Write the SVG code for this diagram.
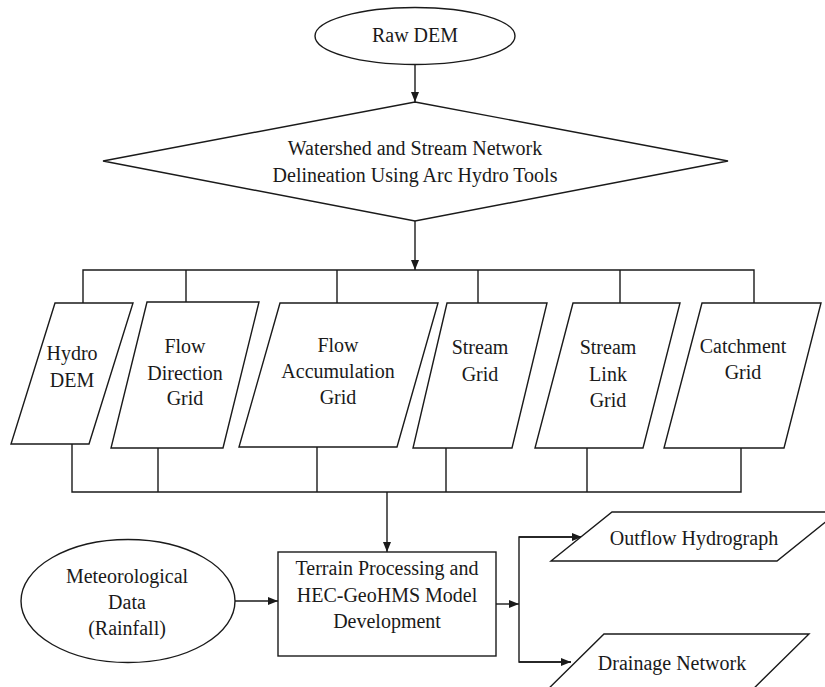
<svg xmlns="http://www.w3.org/2000/svg" width="825" height="687" viewBox="0 0 825 687">
<defs>
<style>
.s{fill:#fff;stroke:#1a1a1a;stroke-width:1.4}
.c{fill:none;stroke:#1a1a1a;stroke-width:1.4}
.t{font-family:"Liberation Serif","Times New Roman",serif;font-size:20px;fill:#1a1a1a;text-anchor:middle}
</style>
<marker id="ah" markerUnits="userSpaceOnUse" markerWidth="11" markerHeight="9" refX="10" refY="4" orient="auto">
<path d="M0,0 L10,4 L0,8 z" fill="#1a1a1a"/>
</marker>
</defs>
<rect width="825" height="687" fill="#fff"/>
<g id="connectors">
<line class="c" x1="415" y1="64" x2="415" y2="102" marker-end="url(#ah)"/>
<line class="c" x1="415" y1="221" x2="415" y2="270" marker-end="url(#ah)"/>
<path class="c" d="M83,303 V270 H754 V303 M186,270 V302 M337,270 V303 M478,270 V303 M620,270 V303"/>
<path class="c" d="M72,444 V492 H741 V448 M158,448 V492 M317,447 V492 M446,448 V492 M587,448 V492"/>
<line class="c" x1="387" y1="492" x2="387" y2="552" marker-end="url(#ah)"/>
<line class="c" x1="235" y1="601" x2="278" y2="601" marker-end="url(#ah)"/>
<line class="c" x1="496" y1="604" x2="519" y2="604" marker-end="url(#ah)"/>
<path class="c" d="M582,537 H519 V662 H571"/>
<line class="c" x1="519" y1="537" x2="582" y2="537" marker-end="url(#ah)"/>
<line class="c" x1="519" y1="662" x2="571" y2="662" marker-end="url(#ah)"/>
</g>
<g id="raw-dem">
<ellipse class="s" cx="415" cy="36" rx="100" ry="28.5"/>
<text class="t" x="415" y="42">Raw DEM</text>
</g>
<g id="delineation">
<polygon class="s" points="415,102 728,161 415,221 103,161"/>
<text class="t" x="415" y="155">Watershed and Stream Network</text>
<text class="t" x="415" y="182">Delineation Using Arc Hydro Tools</text>
</g>
<g id="hydro-dem">
<polygon class="s" points="55,303 133,303 89,444 11,444"/>
<text class="t" x="72" y="360">Hydro</text>
<text class="t" x="72" y="387">DEM</text>
</g>
<g id="flow-direction">
<polygon class="s" points="147,302 259,302 223,448 111,448"/>
<text class="t" x="185" y="353">Flow</text>
<text class="t" x="185" y="380">Direction</text>
<text class="t" x="185" y="405">Grid</text>
</g>
<g id="flow-accumulation">
<polygon class="s" points="280,303 438,303 397,447 239,447"/>
<text class="t" x="338" y="352">Flow</text>
<text class="t" x="338" y="378">Accumulation</text>
<text class="t" x="338" y="404">Grid</text>
</g>
<g id="stream-grid">
<polygon class="s" points="447,303 547,303 512,448 413,448"/>
<text class="t" x="480" y="354">Stream</text>
<text class="t" x="480" y="381">Grid</text>
</g>
<g id="stream-link-grid">
<polygon class="s" points="573,303 680,303 643,448 535,448"/>
<text class="t" x="608" y="354">Stream</text>
<text class="t" x="608" y="381">Link</text>
<text class="t" x="608" y="407">Grid</text>
</g>
<g id="catchment-grid">
<polygon class="s" points="702,303 821,303 784,448 664,448"/>
<text class="t" x="743" y="353">Catchment</text>
<text class="t" x="743" y="379">Grid</text>
</g>
<g id="meteorological">
<ellipse class="s" cx="128" cy="601" rx="107" ry="61.5"/>
<text class="t" x="127" y="583">Meteorological</text>
<text class="t" x="127" y="609">Data</text>
<text class="t" x="127" y="635">(Rainfall)</text>
</g>
<g id="terrain-processing">
<rect class="s" x="278" y="552" width="218" height="104"/>
<text class="t" x="387" y="575">Terrain Processing and</text>
<text class="t" x="387" y="602">HEC-GeoHMS Model</text>
<text class="t" x="387" y="628">Development</text>
</g>
<g id="outflow-hydrograph">
<polygon class="s" points="612,512 838,512 777,561 551,561"/>
<text class="t" x="694" y="545">Outflow Hydrograph</text>
</g>
<g id="drainage-network">
<polygon class="s" points="604,634 809,634 742,700 537,700"/>
<text class="t" x="672" y="670">Drainage Network</text>
</g>
</svg>
